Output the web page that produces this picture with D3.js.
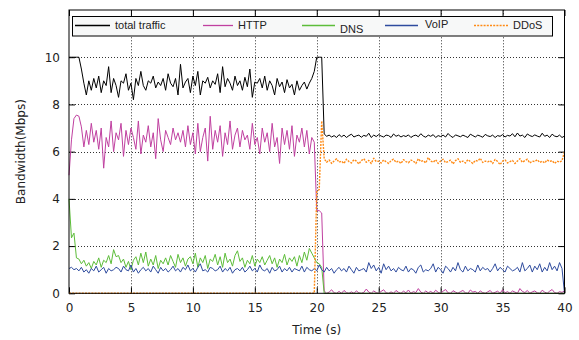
<!DOCTYPE html>
<html>
<head>
<meta charset="utf-8">
<script src="https://cdn.jsdelivr.net/npm/d3@7"></script>
<style>
  body { margin: 0; background: #fff; }
</style>
</head>
<body>
<div id="chart"></div>
<script>
// sampled every 0.2 s, t = 0 .. 40
const step = 0.2;

const totalTraffic = [
  10.0, 10.0, 10.0, 10.0, 10.0, 9.5, 8.9, 8.4, 9.0, 8.6,
  9.1, 8.7, 9.2, 8.5, 9.0, 8.8, 9.6, 8.5, 9.1, 8.8,
  8.3, 9.0, 8.9, 9.3, 8.6, 8.9, 8.2, 9.1, 8.8, 9.4,
  8.8, 8.6, 9.0, 8.9, 9.2, 8.7, 8.95, 8.8, 9.1, 8.6,
  9.3, 8.9, 8.75, 9.1, 8.4, 9.7, 8.7, 8.95, 9.1, 8.5,
  9.2, 8.8, 9.4, 8.4, 9.0, 8.9, 9.15, 8.7, 9.0, 8.85,
  9.3, 8.5, 9.6, 8.75, 9.1, 8.9, 8.6, 9.2, 8.8, 9.0,
  8.6, 9.15, 8.75, 9.5, 8.3, 8.95, 8.9, 9.1, 8.7, 9.2,
  8.6, 9.0, 8.8, 8.4, 9.1, 8.75, 8.95, 8.5, 9.05, 8.7,
  8.85, 8.4, 9.0, 8.6, 8.8, 8.95, 8.65, 8.9, 9.1, 9.4,
  10.0, 10.0, 10.0, 6.75, 6.65, 6.7, 6.62, 6.68, 6.6, 6.72,
  6.63, 6.7, 6.6, 6.68, 6.74, 6.62, 6.67, 6.7, 6.61, 6.69,
  6.65, 6.78, 6.6, 6.7, 6.64, 6.72, 6.66, 6.62, 6.7, 6.68,
  6.6, 6.75, 6.65, 6.7, 6.62, 6.68, 6.64, 6.71, 6.6, 6.67,
  6.7, 6.63, 6.76, 6.66, 6.61, 6.7, 6.65, 6.72, 6.6, 6.68,
  6.64, 6.7, 6.62, 6.77, 6.66, 6.6, 6.71, 6.67, 6.63, 6.7,
  6.65, 6.6, 6.74, 6.68, 6.62, 6.7, 6.66, 6.61, 6.73, 6.67,
  6.64, 6.7, 6.6, 6.68, 6.65, 6.72, 6.62, 6.69, 6.66, 6.76,
  6.63, 6.79, 6.66, 6.7, 6.6, 6.75, 6.68, 6.64, 6.71, 6.66,
  6.62, 6.78, 6.65, 6.7, 6.6, 6.74, 6.66, 6.63, 6.7, 6.6,
  6.66
];

const http = [
  5.0, 6.5, 7.4, 7.55, 7.5, 7.05, 6.2, 6.9, 6.3, 7.2,
  6.4, 6.9, 6.1, 7.0, 5.3, 6.6, 6.2, 7.3, 6.0, 6.8,
  6.5, 7.2, 5.8, 6.9, 6.3, 7.0, 6.6, 6.1, 7.3, 5.9,
  6.7, 6.4, 7.1, 6.2, 6.8, 5.7, 7.4, 6.5, 6.0, 6.9,
  6.6, 6.3, 7.0, 6.5, 6.8, 6.4, 6.9, 6.2, 7.1, 6.3,
  6.8, 5.9, 7.2, 6.0, 6.6, 7.0, 5.6, 7.5, 6.1, 6.9,
  6.4, 7.1, 5.8, 6.8, 6.3, 7.3, 6.1, 6.7, 7.0, 6.2,
  6.9, 6.5, 6.7, 6.1, 7.2, 6.3, 6.6, 5.9, 7.0, 6.4,
  6.8, 6.0, 7.2, 6.2, 6.6, 5.5, 7.0, 6.3, 6.9, 6.1,
  7.1, 5.8, 6.7, 6.4, 7.0, 6.2, 6.9, 5.9, 6.6, 6.4,
  3.5, 3.5, 3.4, 0.1, 0.0, 0.05, 0.15, 0.02, 0.0, 0.08,
  0.0, 0.12, 0.03, 0.0, 0.06, 0.0, 0.1, 0.02, 0.0, 0.04,
  0.18, 0.05, 0.0, 0.1, 0.03, 0.0, 0.08, 0.15, 0.02, 0.0,
  0.06, 0.0, 0.12, 0.04, 0.0, 0.09, 0.02, 0.14, 0.0, 0.07,
  0.03, 0.2, 0.05, 0.0, 0.1, 0.02, 0.08, 0.0, 0.13, 0.04,
  0.0, 0.09, 0.16, 0.02, 0.0, 0.11, 0.05, 0.0, 0.07, 0.12,
  0.02, 0.0, 0.14, 0.05, 0.08, 0.0, 0.1, 0.03, 0.0, 0.06,
  0.12, 0.0, 0.04, 0.09, 0.0, 0.15, 0.02, 0.07, 0.0, 0.1,
  0.05, 0.0, 0.2, 0.08, 0.03, 0.12, 0.0, 0.06, 0.1, 0.02,
  0.0, 0.13, 0.05, 0.0, 0.09, 0.16, 0.03, 0.0, 0.07, 0.04,
  0.1
];

const dns = [
  4.0, 2.35, 2.55, 1.5, 1.45, 1.25, 1.4, 1.15, 1.3, 1.05,
  1.35, 1.2, 1.5, 1.1, 1.4, 1.3, 1.6, 1.25, 1.85, 1.55,
  1.6, 1.3, 1.45, 1.1, 1.35, 1.0, 1.4, 1.55, 1.2, 1.7,
  1.3, 1.75, 1.15, 1.45, 1.2, 1.6, 1.05, 1.4, 1.25, 1.5,
  1.2, 1.6, 1.35, 1.1, 1.65, 1.3, 1.5, 1.15, 1.45, 1.55,
  1.25, 1.7, 1.1, 1.5, 1.3, 1.6, 1.05, 1.45, 1.35, 1.65,
  1.2, 1.55, 1.1, 1.7, 1.3, 1.45, 1.15, 1.6, 1.8, 1.35,
  1.5, 1.1, 1.4, 1.25, 1.6, 1.15, 1.45, 1.3, 1.55, 1.2,
  1.4, 1.6, 1.25, 1.5, 1.1, 1.45, 1.3, 1.65, 1.2, 1.5,
  1.35, 1.55, 1.15, 1.6, 1.3, 1.75, 1.4, 1.9, 1.7, 1.5,
  1.3, 1.25, 1.1, 0, 0, 0, 0, 0, 0, 0,
  0, 0, 0, 0, 0, 0, 0, 0, 0, 0,
  0, 0, 0, 0, 0, 0, 0, 0, 0, 0,
  0, 0, 0, 0, 0, 0, 0, 0, 0, 0,
  0, 0, 0, 0, 0, 0, 0, 0, 0, 0,
  0, 0, 0, 0, 0, 0, 0, 0, 0, 0,
  0, 0, 0, 0, 0, 0, 0, 0, 0, 0,
  0, 0, 0, 0, 0, 0, 0, 0, 0, 0,
  0, 0, 0, 0, 0, 0, 0, 0, 0, 0,
  0, 0, 0, 0, 0, 0, 0, 0, 0, 0,
  0
];

const voip = [
  1.05, 1.1, 1.0, 1.05, 0.95, 1.1, 0.9, 1.0, 0.85, 1.05,
  0.95, 1.15, 0.9, 1.0, 1.1, 0.85, 1.05, 0.95, 1.0, 1.1,
  1.05, 0.9, 1.15, 1.0, 0.95, 1.2, 0.9, 1.05, 0.85, 1.0,
  1.1, 0.95, 1.05, 0.9, 1.15, 1.0, 0.85, 1.1, 0.95, 1.05,
  0.9, 1.0, 1.15, 0.95, 1.05, 0.9, 1.1, 1.0, 1.2, 0.95,
  1.05, 0.9, 1.1, 1.25, 0.95, 1.0, 0.9, 1.1, 1.05, 0.95,
  1.0, 1.15, 0.9, 1.05, 0.95, 1.1, 0.85, 1.0, 1.05, 0.95,
  1.1, 0.9, 1.0, 1.15, 0.95, 1.05, 0.9, 1.2, 1.0, 0.95,
  1.05, 0.85, 1.1, 0.95, 1.0, 1.15, 0.9, 1.05, 0.95, 1.1,
  0.9, 1.05, 1.0, 0.95, 1.15, 0.9, 1.1, 1.0, 0.95, 1.05,
  0.95, 1.2, 1.0, 0.9, 1.1, 0.95, 1.05, 0.85, 1.0, 1.1,
  0.95, 1.05, 0.9, 1.15, 1.0, 0.85, 1.1, 0.95, 1.0, 1.05,
  0.9, 1.3, 1.05, 1.2, 0.95, 1.1, 0.85, 1.25, 1.0, 1.15,
  0.95, 1.05, 0.9, 1.1, 1.0, 0.95, 1.15, 0.9, 1.05, 1.0,
  0.85, 1.1, 1.2, 0.9, 1.0, 0.95, 1.05, 1.25, 0.9, 1.1,
  1.0, 0.85, 1.15, 1.05, 0.9, 1.1, 0.95, 1.3, 1.0, 0.9,
  1.15, 0.95, 1.05, 1.0, 0.9, 1.2, 0.95, 1.1, 1.0, 1.05,
  0.9, 1.05, 1.25, 0.95, 1.1, 1.0, 0.9, 1.15, 1.05, 0.95,
  1.0, 1.1, 0.9, 1.3, 0.95, 1.05, 1.2, 0.9, 1.15, 1.0,
  1.25, 0.9, 1.1, 0.95, 1.3, 1.0, 1.15, 0.95, 1.3, 1.05,
  0.0
];

const ddos = [
  0, 0, 0, 0, 0, 0, 0, 0, 0, 0,
  0, 0, 0, 0, 0, 0, 0, 0, 0, 0,
  0, 0, 0, 0, 0, 0, 0, 0, 0, 0,
  0, 0, 0, 0, 0, 0, 0, 0, 0, 0,
  0, 0, 0, 0, 0, 0, 0, 0, 0, 0,
  0, 0, 0, 0, 0, 0, 0, 0, 0, 0,
  0, 0, 0, 0, 0, 0, 0, 0, 0, 0,
  0, 0, 0, 0, 0, 0, 0, 0, 0, 0,
  0, 0, 0, 0, 0, 0, 0, 0, 0, 0,
  0, 0, 0, 0, 0, 0, 0, 0, 0, 0,
  4.3, 4.4, 7.3, 5.7, 5.55, 5.65, 5.5, 5.6, 5.7, 5.55,
  5.6, 5.5, 5.68, 5.58, 5.52, 5.66, 5.6, 5.48, 5.62, 5.7,
  5.55, 5.63, 5.5, 5.72, 5.58, 5.6, 5.52, 5.65, 5.57, 5.5,
  5.62, 5.68, 5.55, 5.6, 5.5, 5.66, 5.58, 5.53, 5.64, 5.6,
  5.5, 5.7, 5.58, 5.62, 5.52, 5.75, 5.6, 5.55, 5.66, 5.5,
  5.6, 5.68, 5.53, 5.58, 5.64, 5.48, 5.62, 5.7, 5.55, 5.6,
  5.52, 5.66, 5.58, 5.5, 5.63, 5.6, 5.72, 5.54, 5.6, 5.57,
  5.62, 5.5, 5.67, 5.58, 5.45, 5.6, 5.65, 5.52, 5.58, 5.63,
  5.5, 5.6, 5.7, 5.55, 5.62, 5.68, 5.52, 5.6, 5.58, 5.66,
  5.54, 5.6, 5.52, 5.65, 5.58, 5.62, 5.5, 5.6, 5.55, 5.62,
  6.0
];

const seriesNames = ['total traffic', 'HTTP', 'DNS', 'VoIP', 'DDoS'];
const xTicks = [0, 5, 10, 15, 20, 25, 30, 35, 40];
const yTicks = [0, 2, 4, 6, 8, 10];

const width = 579;
const height = 340;
const margin = { top: 10, right: 14.5, bottom: 46.7, left: 69 };

const styles = [
  { color: '#000000', dash: null, width: 1 },
  { color: '#c040a0', dash: null, width: 1 },
  { color: '#5dbd3a', dash: null, width: 1 },
  { color: '#2e4b9e', dash: null, width: 1 },
  { color: '#ff8a14', dash: '2,1.2', width: 1.4 }
];

const time = d3.range(totalTraffic.length).map(i => i * step);
const allSeries = [totalTraffic, http, dns, voip, ddos].map((vals, k) => ({
  name: seriesNames[k],
  values: vals.map((v, i) => ({ t: time[i], v })),
  style: styles[k]
}));

const x = d3.scaleLinear().domain([0, 40]).range([margin.left, width - margin.right]);
const y = d3.scaleLinear().domain([0, 12]).range([height - margin.bottom, margin.top]);

const svg = d3.select('#chart').append('svg')
  .attr('width', width)
  .attr('height', height)
  .attr('font-family', '"DejaVu Sans", sans-serif');

// dotted grid
const grid = svg.append('g')
  .attr('stroke', '#333')
  .attr('stroke-width', 1)
  .attr('stroke-dasharray', '1,2');

grid.selectAll('line.gx')
  .data(xTicks.filter(d => d > 0 && d < 40))
  .join('line')
    .attr('class', 'gx')
    .attr('x1', d => Math.round(x(d)) + 0.5)
    .attr('x2', d => Math.round(x(d)) + 0.5)
    .attr('y1', y(0))
    .attr('y2', y(12));

grid.selectAll('line.gy')
  .data(yTicks.filter(d => d > 0))
  .join('line')
    .attr('class', 'gy')
    .attr('x1', x(0))
    .attr('x2', x(40))
    .attr('y1', d => Math.round(y(d)) + 0.5)
    .attr('y2', d => Math.round(y(d)) + 0.5);

// axes, ticks inward on every side
const tickLen = 6;
const axisBottom = d3.axisBottom(x).tickValues(xTicks).tickSizeInner(-tickLen).tickSizeOuter(0).tickPadding(tickLen + 4);
const axisTop = d3.axisTop(x).tickValues(xTicks).tickSizeInner(-tickLen).tickSizeOuter(0).tickFormat('');
const axisLeft = d3.axisLeft(y).tickValues(yTicks).tickSizeInner(-tickLen).tickSizeOuter(0).tickPadding(tickLen + 3);
const axisRight = d3.axisRight(y).tickValues(yTicks).tickSizeInner(-tickLen).tickSizeOuter(0).tickFormat('');

const styleAxis = g => {
  g.select('.domain').remove();
  g.selectAll('text').attr('font-size', 12).attr('font-family', '"DejaVu Sans", sans-serif').attr('fill', '#222');
};

svg.append('g').attr('transform', `translate(0,${y(0)})`).call(axisBottom).call(styleAxis);
svg.append('g').attr('transform', `translate(0,${y(12)})`).call(axisTop).call(styleAxis);
svg.append('g').attr('transform', `translate(${x(0)},0)`).call(axisLeft).call(styleAxis);
svg.append('g').attr('transform', `translate(${x(40)},0)`).call(axisRight).call(styleAxis);

// data lines
const line = d3.line()
  .x(d => x(d.t))
  .y(d => y(d.v));

svg.append('g')
  .attr('fill', 'none')
  .selectAll('path')
  .data(allSeries)
  .join('path')
    .attr('stroke', d => d.style.color)
    .attr('stroke-width', d => d.style.width)
    .attr('stroke-dasharray', d => d.style.dash)
    .attr('stroke-linejoin', 'round')
    .attr('d', d => line(d.values));

// frame
svg.append('rect')
  .attr('x', x(0))
  .attr('y', y(12))
  .attr('width', x(40) - x(0))
  .attr('height', y(0) - y(12))
  .attr('fill', 'none')
  .attr('stroke', '#000')
  .attr('stroke-width', 1);

// legend box (gnuplot style, labels slightly jittered)
const legend = svg.append('g');
legend.append('rect')
  .attr('x', 72.5)
  .attr('y', 16.5)
  .attr('width', 480)
  .attr('height', 19.5)
  .attr('fill', '#f7f8f8')
  .attr('stroke', '#000')
  .attr('stroke-width', 1);

const legendX = [75, 203, 302, 385, 474];
const legendLen = [35, 30, 33, 33, 34];
const legendTextDx = [40, 35, 38, 40, 39];
const legendBaseline = [29, 29, 33, 28, 29];

legend.selectAll('path.key')
  .data(allSeries)
  .join('path')
    .attr('class', 'key')
    .attr('d', (d, i) => `M${legendX[i]},25.5H${legendX[i] + legendLen[i]}`)
    .attr('fill', 'none')
    .attr('stroke', d => d.style.color)
    .attr('stroke-width', d => Math.max(1.3, d.style.width))
    .attr('stroke-dasharray', d => d.style.dash);

legend.selectAll('text')
  .data(allSeries)
  .join('text')
    .attr('x', (d, i) => legendX[i] + legendTextDx[i])
    .attr('y', (d, i) => legendBaseline[i])
    .attr('font-family', '"Liberation Sans", Arial, sans-serif')
    .attr('font-size', 11)
    .attr('fill', '#222')
    .text(d => d.name);

// axis titles
svg.append('text')
  .attr('x', (x(0) + x(40)) / 2)
  .attr('y', 334)
  .attr('text-anchor', 'middle')
  .attr('font-size', 12)
  .attr('fill', '#222')
  .text('Time (s)');

svg.append('text')
  .attr('transform', `translate(25,${(y(0) + y(12)) / 2}) rotate(-90)`)
  .attr('text-anchor', 'middle')
  .attr('font-size', 12)
  .attr('fill', '#222')
  .text('Bandwidth(Mbps)');
</script>
</body>
</html>
